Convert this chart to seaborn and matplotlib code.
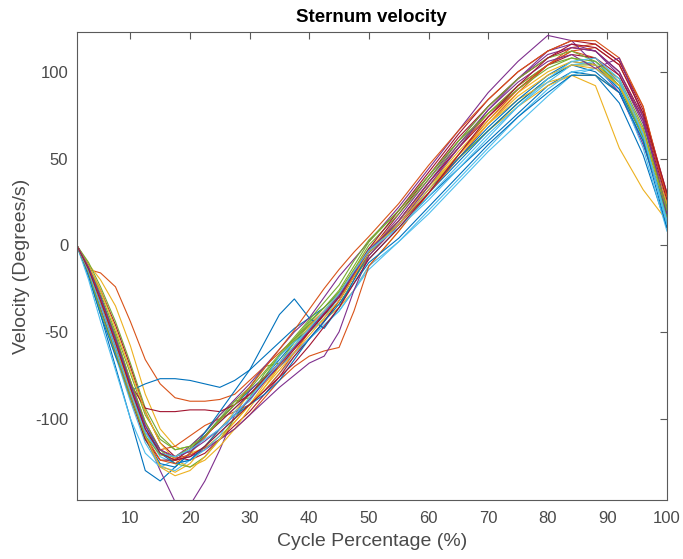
import numpy as np
import pandas as pd
import matplotlib
matplotlib.use("Agg")
import matplotlib.pyplot as plt
import seaborn as sns

# Cycle percentage sample positions (shared by all trials)
X = [1, 3, 5, 7.5, 10, 12.5, 15, 17.5, 20, 22.5, 25, 27.5, 30, 32.5, 35, 37.5,
     40, 42.5, 45, 47.5, 50, 55, 60, 65, 70, 75, 80, 84, 88, 92, 96, 100]

c01 = [0, -18, -40, -70, -100, -130, -136, -128, -120, -110, -100, -92, -84, -76, -66, -56, -48, -40, -30, -18, -8, 10, 28, 44, 60, 76, 92, 100, 98, 82, 52, 10]
c02 = [0, -14, -16, -24, -44, -66, -80, -88, -90, -90, -89, -86, -78, -70, -62, -54, -46, -38, -29, -17, -4, 14, 36, 56, 76, 92, 104, 112, 108, 94, 66, 22]
c03 = [0, -11, -20, -35, -58, -86, -106, -116, -120, -117, -110, -102, -92, -80, -70, -60, -50, -43, -36, -26, -12, 8, 30, 50, 66, 80, 92, 98, 98, 88, 64, 22]
c04 = [0, -12, -30, -55, -84, -110, -130, -148, -150, -136, -118, -98, -84, -76, -70, -62, -54, -44, -32, -18, -4, 16, 38, 60, 80, 96, 112, 116, 112, 98, 70, 24]
c05 = [0, -10, -24, -44, -68, -94, -110, -118, -116, -108, -98, -90, -82, -70, -68, -56, -46, -40, -34, -20, -6, 14, 34, 50, 66, 82, 96, 104, 104, 94, 66, 18]
c06 = [0, -17, -38, -64, -90, -114, -128, -130, -124, -116, -108, -100, -92, -84, -74, -64, -54, -46, -38, -26, -14, 2, 18, 36, 54, 70, 86, 98, 102, 92, 64, 12]
c07 = [0, -12, -26, -46, -70, -96, -114, -122, -124, -120, -112, -104, -96, -86, -76, -64, -54, -44, -32, -18, -4, 18, 40, 62, 80, 96, 108, 114, 112, 100, 74, 28]
c08 = [0, -18, -40, -64, -84, -80, -77, -77, -78, -80, -82, -78, -72, -64, -56, -48, -42, -36, -28, -16, -4, 12, 30, 48, 66, 82, 96, 104, 100, 88, 60, 18]
c09 = [0, -15, -34, -58, -84, -108, -118, -116, -110, -104, -100, -96, -92, -84, -74, -62, -50, -40, -30, -18, -6, 12, 30, 50, 70, 88, 104, 114, 116, 106, 80, 26]
c10 = [0, -15, -36, -60, -86, -112, -127, -131, -126, -116, -106, -96, -86, -77, -68, -58, -48, -38, -28, -14, -2, 14, 34, 52, 70, 84, 94, 98, 92, 56, 32, 14]
c11 = [0, -14, -33, -58, -84, -108, -120, -122, -116, -108, -98, -89, -80, -70, -60, -50, -42, -30, -18, -8, 2, 22, 44, 66, 88, 106, 121, 118, 104, 88, 58, 18]
c12 = [0, -12, -28, -50, -74, -98, -112, -118, -116, -110, -100, -90, -88, -74, -64, -55, -45, -36, -27, -14, 0, 18, 38, 58, 76, 92, 104, 108, 104, 92, 64, 22]
c13 = [0, -20, -44, -72, -100, -120, -128, -124, -118, -110, -102, -94, -86, -78, -70, -62, -54, -46, -38, -26, -12, 2, 20, 38, 56, 74, 90, 100, 102, 90, 56, 8]
c14 = [0, -14, -30, -54, -80, -94, -96, -96, -95, -95, -96, -92, -86, -78, -70, -60, -50, -40, -30, -18, -4, 14, 36, 56, 74, 90, 104, 110, 108, 98, 72, 26]
c15 = [0, -15, -34, -58, -86, -112, -126, -128, -120, -108, -96, -84, -72, -56, -40, -31, -42, -48, -36, -20, -4, 12, 32, 50, 68, 84, 98, 106, 104, 90, 62, 16]
c16 = [0, -13, -30, -52, -78, -102, -118, -123, -121, -117, -112, -106, -98, -88, -78, -70, -64, -61, -59, -38, -12, 8, 30, 52, 72, 90, 104, 112, 114, 104, 76, 28]
c17 = [0, -12, -26, -48, -72, -96, -114, -124, -128, -124, -116, -106, -94, -82, -70, -58, -47, -38, -28, -15, -2, 14, 34, 54, 72, 88, 100, 106, 104, 92, 66, 24]
c18 = [0, -14, -32, -56, -82, -106, -120, -124, -122, -118, -112, -106, -98, -90, -82, -75, -68, -64, -50, -26, -6, 12, 34, 56, 78, 96, 110, 114, 112, 100, 72, 20]
c19 = [0, -14, -30, -52, -78, -102, -118, -126, -128, -122, -112, -100, -88, -76, -64, -54, -44, -36, -26, -12, 2, 20, 40, 60, 80, 96, 108, 112, 106, 92, 62, 16]
c20 = [0, -14, -34, -58, -84, -108, -122, -126, -124, -118, -110, -96, -90, -78, -64, -56, -50, -42, -30, -16, -2, 10, 28, 46, 64, 80, 94, 104, 106, 94, 64, 14]
c21 = [0, -16, -36, -62, -88, -112, -124, -124, -118, -110, -102, -94, -86, -77, -68, -59, -50, -40, -30, -16, -2, 20, 42, 64, 84, 100, 112, 118, 116, 106, 78, 30]
c22 = [0, -13, -30, -54, -80, -104, -120, -126, -124, -116, -106, -98, -92, -86, -78, -66, -54, -44, -34, -22, -10, 4, 22, 40, 58, 74, 88, 98, 98, 88, 60, 10]
c23 = [0, -15, -35, -60, -86, -110, -124, -126, -120, -111, -101, -92, -82, -71, -60, -49, -37, -25, -14, -4, 5, 24, 46, 66, 84, 100, 112, 118, 118, 108, 80, 28]
c24 = [0, -14, -32, -56, -84, -110, -128, -133, -130, -122, -112, -102, -92, -82, -72, -62, -52, -42, -32, -18, -4, 12, 32, 52, 70, 86, 98, 104, 102, 92, 66, 20]
c25 = [0, -13, -30, -54, -80, -104, -118, -122, -119, -113, -106, -98, -89, -79, -69, -59, -49, -39, -29, -16, -3, 14, 36, 58, 78, 94, 106, 110, 102, 108, 74, 18]
c26 = [0, -16, -38, -62, -88, -110, -121, -122, -117, -110, -101, -92, -83, -73, -63, -53, -43, -33, -23, -9, 3, 20, 40, 60, 76, 90, 102, 108, 106, 96, 68, 20]
c27 = [0, -15, -35, -60, -85, -108, -120, -122, -118, -112, -106, -98, -88, -78, -68, -58, -48, -38, -28, -15, -3, 10, 26, 44, 62, 80, 96, 106, 108, 96, 64, 12]
c28 = [0, -14, -32, -56, -82, -106, -120, -124, -122, -116, -108, -100, -92, -84, -76, -68, -58, -47, -36, -22, -8, 10, 30, 52, 74, 92, 108, 116, 114, 104, 76, 30]

trials = [c01, c02, c03, c04, c05, c06, c07, c08, c09, c10, c11, c12, c13, c14,
          c15, c16, c17, c18, c19, c20, c21, c22, c23, c24, c25, c26, c27, c28]

matlab_colors = ["#0072BD", "#D95319", "#EDB120", "#7E2F8E", "#77AC30", "#4DBEEE", "#A2142F"]

rows = []
for i, tr in enumerate(trials):
    for xv, yv in zip(X, tr):
        rows.append({"trial": i, "x": xv, "v": yv})
df = pd.DataFrame(rows)
palette = [matlab_colors[i % 7] for i in range(len(trials))]

sns.set_theme(style="white")
plt.rcParams['font.family'] = ['Liberation Sans', 'DejaVu Sans']
plt.rcParams['axes.unicode_minus'] = False

fig = plt.figure(figsize=(6.83, 5.59), dpi=100)
ax = fig.add_axes([0.1123, 0.1055, 0.8643, 0.8373])

sns.lineplot(data=df, x="x", y="v", hue="trial", palette=palette, legend=False,
             linewidth=0.8, errorbar=None, ax=ax)

ax.set_xlim(1, 100)
ax.set_ylim(-147, 123)
ax.set_xticks([10, 20, 30, 40, 50, 60, 70, 80, 90, 100])
ax.set_yticks([-100, -50, 0, 50, 100])

axcol = "#5a5a5a"
for s in ax.spines.values():
    s.set_visible(True)
    s.set_color(axcol)
    s.set_linewidth(0.8)
ax.tick_params(direction="in", top=True, right=True, length=5, width=0.8,
               color=axcol, labelcolor="#4a4a4a", labelsize=12)
ax.tick_params(axis="x", pad=8)
ax.tick_params(axis="y", pad=6)
ax.set_xlabel("Cycle Percentage (%)", fontsize=14, color="#4a4a4a", labelpad=5)
ax.set_ylabel("Velocity (Degrees/s)", fontsize=14, color="#4a4a4a", labelpad=4)
ax.set_title("Sternum velocity", fontsize=13.5, fontweight="bold", color="black", pad=7)

fig.savefig("out.png", dpi=100, facecolor="white")
